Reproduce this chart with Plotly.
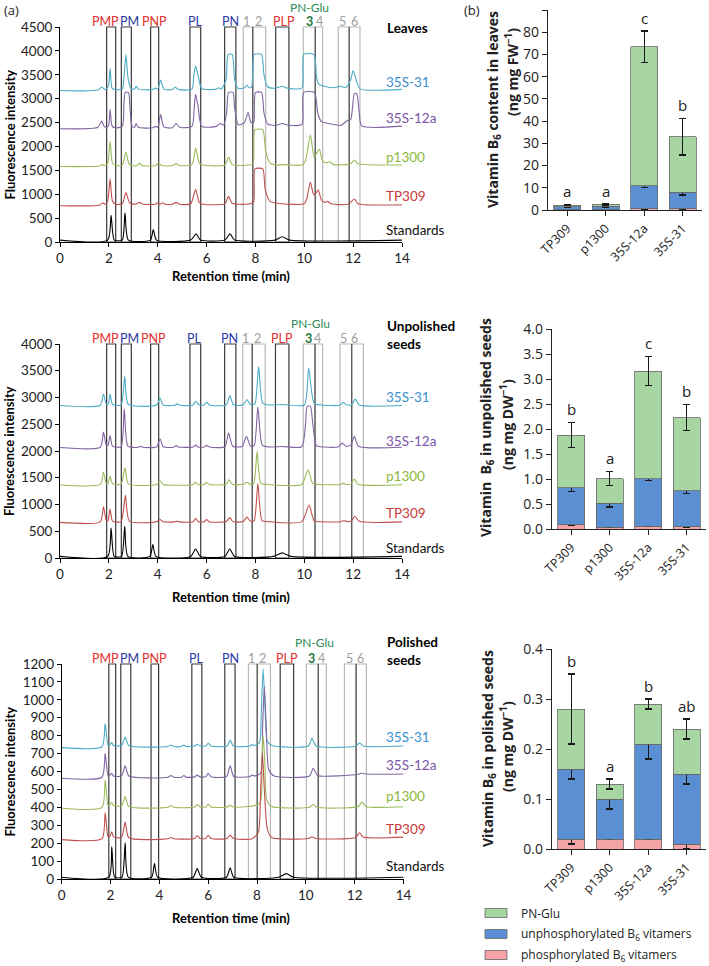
import plotly.graph_objects as go

# ======================= DATA =======================
# --- chromatograms: (retention time [min], fluorescence intensity)
LEAVES_35S31 = [(0,3170),(1.55,3180),(1.7,3245),(1.85,3190),(1.98,3260),(2.05,3630),(2.13,3220),(2.25,3190),(2.55,3200),(2.62,3450),(2.7,3930),(2.78,3450),(2.9,3210),(3.05,3200),(3.12,3260),(3.2,3200),(3.8,3190),(3.9,3220),(4.0,3200),(4.12,3390),(4.25,3200),(4.6,3190),(4.72,3240),(4.85,3190),(5.4,3200),(5.48,3500),(5.55,3690),(5.65,3500),(5.8,3210),(6.4,3200),(6.5,3230),(6.6,3200),(6.8,3400),(6.88,3925),(7.05,3925),(7.15,3400),(7.3,3210),(7.55,3230),(7.65,3280),(7.75,3230),(7.85,3250),(7.95,3925),(8.25,3925),(8.35,3500),(8.5,3250),(8.8,3220),(9.1,3260),(9.3,3220),(9.9,3220),(9.98,3925),(10.4,3925),(10.5,3450),(10.6,3300),(10.8,3260),(11.2,3230),(11.5,3260),(11.7,3230),(11.9,3400),(12.0,3590),(12.15,3350),(12.3,3200),(14,3195)]
LEAVES_35S12A = [(0,2370),(1.55,2400),(1.7,2530),(1.82,2410),(1.98,2420),(2.05,2770),(2.13,2430),(2.25,2390),(2.55,2420),(2.62,2900),(2.67,3130),(2.8,3130),(2.88,2700),(2.95,2420),(3.05,2400),(3.12,2480),(3.2,2400),(3.8,2390),(3.9,2420),(4.0,2400),(4.12,2665),(4.25,2410),(4.6,2390),(4.75,2480),(4.9,2400),(5.4,2420),(5.5,2850),(5.55,3090),(5.65,2850),(5.8,2420),(6.4,2420),(6.55,2480),(6.7,2450),(6.82,2700),(6.9,3130),(7.08,3130),(7.15,2800),(7.3,2450),(7.55,2500),(7.7,2710),(7.82,2500),(7.93,2500),(8.0,3130),(8.25,3130),(8.35,2700),(8.5,2470),(8.8,2440),(9.1,2480),(9.3,2450),(9.9,2460),(9.97,3130),(10.42,3130),(10.55,2700),(10.7,2520),(11.0,2480),(11.5,2440),(11.75,2540),(11.9,2560),(12.05,3110),(12.15,3100),(12.25,2700),(12.35,2430),(14,2425)]
LEAVES_P1300 = [(0,1580),(1.6,1590),(1.72,1620),(1.82,1600),(1.95,1640),(2.05,2105),(2.15,1650),(2.3,1600),(2.55,1610),(2.7,1885),(2.82,1640),(2.95,1600),(3.15,1600),(3.25,1650),(3.35,1600),(3.9,1600),(4.05,1660),(4.15,1600),(4.6,1600),(4.75,1640),(4.9,1600),(5.4,1620),(5.55,1965),(5.7,1650),(5.85,1610),(6.75,1610),(6.9,1780),(7.05,1620),(7.5,1600),(7.7,1610),(7.9,1630),(7.98,2350),(8.3,2350),(8.42,1900),(8.6,1650),(8.9,1610),(9.1,1620),(9.9,1610),(10.05,1700),(10.25,2245),(10.4,1780),(10.5,1850),(10.62,1940),(10.75,1700),(10.9,1660),(11.05,1680),(11.2,1620),(11.9,1640),(12.05,1715),(12.2,1640),(14,1612)]
LEAVES_TP309 = [(0,760),(1.6,770),(1.75,820),(1.85,790),(1.95,850),(2.05,1325),(2.15,850),(2.3,790),(2.55,800),(2.7,1033),(2.85,820),(3.1,790),(3.25,830),(3.4,790),(3.9,790),(4.0,820),(4.1,790),(4.2,820),(4.3,790),(4.6,790),(4.75,830),(4.9,790),(5.35,800),(5.55,1100),(5.7,830),(5.85,790),(6.75,800),(6.9,955),(7.05,810),(7.6,790),(7.92,830),(7.98,1530),(8.3,1530),(8.4,1100),(8.6,850),(9.1,800),(10.0,800),(10.1,900),(10.25,1250),(10.38,1000),(10.45,1000),(10.57,1095),(10.7,880),(10.85,830),(10.95,850),(11.1,800),(11.8,790),(12.05,900),(12.2,800),(14,780)]
LEAVES_STD = [(0,40),(1.95,40),(2.09,560),(2.22,40),(2.55,40),(2.66,610),(2.8,40),(3.7,40),(3.82,260),(3.95,40),(5.35,40),(5.57,170),(5.75,40),(6.75,40),(6.96,170),(7.15,40),(8.8,40),(9.1,110),(9.4,40),(14,40)]

UNPOL_35S31 = [(0,2850),(1.65,2855),(1.78,3065),(1.9,2870),(1.98,2880),(2.05,3065),(2.15,2870),(2.5,2860),(2.65,3395),(2.8,2870),(3.95,2860),(4.1,2990),(4.22,2860),(4.7,2855),(4.8,2880),(4.9,2855),(5.45,2860),(5.55,2930),(5.7,2860),(5.9,2860),(6.0,2915),(6.12,2860),(6.8,2860),(6.95,3035),(7.1,2865),(7.5,2860),(7.65,2960),(7.8,2870),(7.98,2880),(8.13,3580),(8.3,2890),(8.6,2860),(9.1,2870),(10.0,2860),(10.18,3550),(10.4,2890),(10.7,2860),(11.45,2855),(11.6,2905),(11.75,2860),(11.95,2865),(12.08,2970),(12.25,2860),(14,2850)]
UNPOL_35S12A = [(0,2065),(1.65,2070),(1.78,2355),(1.9,2100),(1.97,2110),(2.05,2290),(2.15,2090),(2.5,2080),(2.63,2790),(2.78,2090),(3.2,2070),(3.3,2090),(3.4,2070),(3.95,2075),(4.1,2230),(4.22,2080),(4.65,2070),(4.75,2100),(4.85,2075),(5.45,2075),(5.55,2110),(5.65,2075),(5.9,2075),(6.0,2105),(6.12,2075),(6.75,2080),(6.9,2335),(7.07,2090),(7.45,2085),(7.63,2275),(7.8,2090),(7.95,2100),(8.1,2820),(8.28,2110),(8.6,2075),(9.1,2085),(9.9,2080),(10.05,2500),(10.12,2840),(10.25,2840),(10.35,2500),(10.5,2100),(10.8,2075),(11.4,2080),(11.55,2150),(11.72,2085),(11.9,2110),(12.05,2275),(12.22,2090),(14,2070)]
UNPOL_P1300 = [(0,1365),(1.65,1375),(1.78,1600),(1.9,1390),(1.97,1400),(2.05,1525),(2.15,1390),(2.5,1380),(2.66,1685),(2.8,1385),(3.95,1375),(4.1,1445),(4.22,1375),(5.45,1375),(5.55,1415),(5.65,1375),(5.9,1375),(6.0,1410),(6.12,1375),(6.8,1378),(6.92,1460),(7.05,1380),(7.5,1378),(7.65,1415),(7.78,1380),(7.93,1390),(8.07,1995),(8.22,1400),(8.5,1375),(9.9,1375),(10.15,1650),(10.35,1390),(10.6,1375),(11.5,1375),(11.6,1400),(11.7,1375),(11.92,1385),(12.05,1478),(12.2,1380),(14,1370)]
UNPOL_TP309 = [(0,665),(1.65,675),(1.78,955),(1.9,695),(1.97,705),(2.05,915),(2.15,690),(2.5,680),(2.68,1170),(2.84,690),(3.95,678),(4.1,720),(4.22,678),(4.7,675),(4.78,690),(4.88,675),(5.45,678),(5.55,742),(5.65,678),(5.9,678),(6.0,720),(6.1,678),(6.8,680),(6.95,755),(7.08,680),(7.5,680),(7.65,765),(7.8,685),(7.95,700),(8.1,1390),(8.27,700),(8.55,678),(9.9,680),(10.2,990),(10.4,695),(10.7,678),(11.5,678),(11.62,700),(11.75,680),(11.92,690),(12.07,780),(12.25,685),(14,675)]
UNPOL_STD = [(0,30),(1.95,30),(2.09,560),(2.22,30),(2.52,30),(2.65,592),(2.78,30),(3.68,30),(3.8,250),(3.93,30),(5.35,30),(5.55,168),(5.75,30),(6.75,30),(6.95,168),(7.15,30),(8.75,30),(9.1,95),(9.45,30),(14,30)]

POL_35S31 = [(0,733),(1.65,738),(1.78,866),(1.9,745),(1.98,750),(2.05,762),(2.12,745),(2.45,745),(2.6,792),(2.75,745),(4.35,740),(4.48,748),(4.6,740),(4.9,740),(5.0,747),(5.1,740),(5.45,742),(5.55,752),(5.67,742),(5.9,742),(6.0,758),(6.12,742),(6.78,742),(6.9,776),(7.03,742),(7.7,742),(7.8,750),(7.9,745),(8.1,760),(8.18,950),(8.25,1172),(8.33,950),(8.42,770),(8.6,745),(10.1,742),(10.25,786),(10.42,742),(12.05,742),(12.2,760),(12.35,742),(14,742)]
POL_35S12A = [(0,562),(1.65,568),(1.78,702),(1.9,575),(1.98,580),(2.05,590),(2.12,575),(2.45,575),(2.6,632),(2.75,575),(4.35,568),(4.48,578),(4.6,568),(4.9,568),(5.0,578),(5.1,568),(5.45,570),(5.55,580),(5.67,570),(5.9,570),(6.0,590),(6.12,570),(6.75,572),(6.9,632),(7.05,572),(7.7,572),(7.8,580),(7.9,575),(8.15,590),(8.23,850),(8.3,1075),(8.38,850),(8.48,610),(8.7,575),(10.15,575),(10.3,618),(10.48,578),(12.15,585),(12.3,592),(12.45,586),(14,586)]
POL_P1300 = [(0,395),(1.65,400),(1.78,552),(1.9,410),(1.98,415),(2.05,428),(2.12,410),(2.45,408),(2.6,460),(2.75,405),(4.35,400),(4.48,410),(4.6,400),(5.45,402),(5.55,416),(5.67,402),(5.9,402),(6.0,418),(6.12,402),(6.78,402),(6.9,412),(7.03,402),(8.1,420),(8.2,650),(8.25,800),(8.32,650),(8.4,440),(8.6,405),(10.15,400),(10.3,416),(10.45,400),(12.15,405),(12.3,431),(12.45,405),(14,403)]
POL_TP309 = [(0,220),(1.65,225),(1.78,370),(1.9,235),(1.98,240),(2.05,263),(2.12,235),(2.45,232),(2.6,318),(2.75,230),(4.35,225),(4.48,232),(4.6,225),(5.45,226),(5.55,243),(5.67,226),(5.9,226),(6.0,244),(6.12,226),(6.78,226),(6.9,246),(7.03,226),(7.8,225),(8.05,260),(8.15,500),(8.22,705),(8.3,500),(8.42,280),(8.6,232),(10.1,226),(10.25,236),(10.4,226),(12.05,232),(12.2,258),(12.35,234),(14,234)]
POL_STD = [(0,10),(1.93,10),(2.05,180),(2.17,10),(2.47,10),(2.6,202),(2.73,10),(3.68,10),(3.8,86),(3.93,10),(5.38,10),(5.55,58),(5.72,10),(6.75,10),(6.9,63),(7.05,10),(8.9,10),(9.2,30),(9.5,10),(14,10)]

SAMPLE_NAMES = ["35S-31", "35S-12a", "p1300", "TP309", "Standards"]
PANEL_NAMES = ["Leaves", "Unpolished<br>seeds", "Polished<br>seeds"]
Y_MAX = [4500, 4000, 1200]
Y_STEP = [500, 500, 100]

PEAK_NAMES = ["PMP", "PM", "PNP", "PL", "PN", "1", "2", "PLP", "3", "4", "5", "6"]
LEAVES_PEAK_RT = [1.88, 2.86, 3.86, 5.55, 6.99, 7.64, 8.12, 9.16, 10.2, 10.61, 11.57, 12.05]
UNPOL_PEAK_RT = [1.85, 2.84, 3.84, 5.52, 6.95, 7.6, 8.07, 9.09, 10.18, 10.56, 11.6, 12.07]
POL_PEAK_RT = [1.79, 2.78, 3.81, 5.51, 6.9, 7.76, 8.23, 9.21, 10.24, 10.65, 11.79, 12.25]
PNGLU_RT = [10.23, 10.27, 10.34]

LEAVES_WINDOWS = [(1.91,2.28),(2.51,2.92),(3.71,4.04),(5.32,5.76),(6.74,7.20),(7.50,7.89),(7.89,8.42),(8.83,9.37),(9.96,10.45),(10.45,10.75),(11.39,11.84),(11.84,12.28)]
UNPOL_WINDOWS = [(1.91,2.28),(2.51,2.92),(3.71,4.04),(5.32,5.76),(6.74,7.20),(7.48,7.87),(7.87,8.40),(8.82,9.37),(9.96,10.44),(10.44,10.75),(11.46,11.94),(11.94,12.42)]
POL_WINDOWS = [(1.93,2.21),(2.42,2.83),(3.66,3.97),(5.33,5.74),(6.68,7.10),(7.65,8.01),(8.01,8.55),(8.95,9.50),(10.02,10.51),(10.51,10.84),(11.58,12.06),(12.06,12.48)]

# --- bar charts (stacked segment amounts and SD on each cumulative top)
LINES = ["TP309", "p1300", "35S-12a", "35S-31"]
LEAF_PHOS = [0.1, 0.1, 0.5, 0.5]
LEAF_UNPHOS = [1.3, 1.5, 10.5, 7.6]
LEAF_GLU = [0.8, 0.9, 62.5, 24.9]
LEAF_PHOS_SD = [0.05, 0.05, 0.2, 0.2]
LEAF_UNPHOS_SD = [0.3, 0.3, 0.9, 1.4]
LEAF_GLU_SD = [0.3, 0.3, 7.1, 8.3]
LEAF_LETTERS = ["a", "a", "c", "b"]

UNPOL_PHOS = [0.09, 0.04, 0.06, 0.05]
UNPOL_UNPHOS = [0.74, 0.48, 0.95, 0.72]
UNPOL_GLU = [1.05, 0.49, 2.15, 1.46]
UNPOL_PHOS_SD = [0.01, 0.01, 0.01, 0.01]
UNPOL_UNPHOS_SD = [0.08, 0.08, 0.04, 0.06]
UNPOL_GLU_SD = [0.25, 0.14, 0.29, 0.26]
UNPOL_LETTERS = ["b", "a", "c", "b"]

POL_PHOS = [0.02, 0.02, 0.02, 0.01]
POL_UNPHOS = [0.14, 0.08, 0.19, 0.14]
POL_GLU = [0.12, 0.03, 0.08, 0.09]
POL_PHOS_SD = [0.01, 0.0, 0.0, 0.01]
POL_UNPHOS_SD = [0.02, 0.02, 0.03, 0.02]
POL_GLU_SD = [0.07, 0.01, 0.01, 0.02]
POL_LETTERS = ["b", "a", "b", "ab"]

Y_TITLES_B = ["Vitamin B<sub>6</sub> content in leaves", "Vitamin  B<sub>6</sub> in unpolished seeds", "Vitamin B<sub>6</sub> in polished seeds"]
Y_UNITS_B = ["(ng mg FW<sup>−1</sup>)", "(ng mg DW<sup>−1</sup>)", "(ng mg DW<sup>−1</sup>)"]
LEGEND_NAMES = ["PN-Glu", "unphosphorylated B<sub>6</sub> vitamers", "phosphorylated B<sub>6</sub> vitamers"]

# ======================= STYLE / LAYOUT =======================
W, H = 709, 966
FONT = "Open Sans"
CFONT = "Lato"
def px(x): return x / W
def py(y): return 1 - y / H

TRACE_COLORS = ["#4bacc6", "#8064a2", "#9bbb59", "#c0504d", "#000000"]
LABEL_COLORS = ["#3a8fd0", "#7a55a8", "#8ab83c", "#c83838", "#111111"]
PEAK_COLORS = ["#e03030", "#2a3a9a", "#e03030", "#2a3aa8", "#2a3aa8", "#a0a0a0", "#a0a0a0", "#e03030", "#1e7a3e", "#a0a0a0", "#a0a0a0", "#a0a0a0"]
BLACK_WIN = [True, True, True, True, True, False, False, True, False, False, False, False]
BAR_GREEN, BAR_BLUE, BAR_PINK = "#a8d6a2", "#5b8fd3", "#f4a3a6"

fig = go.Figure()

chrom_data = [
    [LEAVES_35S31, LEAVES_35S12A, LEAVES_P1300, LEAVES_TP309, LEAVES_STD],
    [UNPOL_35S31, UNPOL_35S12A, UNPOL_P1300, UNPOL_TP309, UNPOL_STD],
    [POL_35S31, POL_35S12A, POL_P1300, POL_TP309, POL_STD],
]
peak_rts = [LEAVES_PEAK_RT, UNPOL_PEAK_RT, POL_PEAK_RT]
windows = [LEAVES_WINDOWS, UNPOL_WINDOWS, POL_WINDOWS]

# pixel geometry of chromatogram panels: (x0, x1, ytop, ybottom)
CHROM_BOX = [(60, 402, 27, 242), (60, 402, 344, 558), (61.7, 403.5, 664, 879)]
HEADER_Y = [21.5, 338, 658]
PNGLU_Y = [7.5, 323, 642]
LABEL_Y = [[82, 118, 157, 196, 230], [397, 441, 476, 513, 548], [737, 765, 796, 829, 866]]
PANEL_Y = [28, 335, 651]
XTITLE_Y = [276, 597, 918]

annotations = []
shapes = []

for p in range(3):
    xa = "x" if p == 0 else f"x{p+1}"
    ya = "y" if p == 0 else f"y{p+1}"
    for i, series in enumerate(chrom_data[p]):
        fig.add_trace(go.Scatter(
            x=[a for a, b in series], y=[b for a, b in series],
            mode="lines", line=dict(color=TRACE_COLORS[i], width=1.1, shape="spline", smoothing=0.6),
            xaxis=xa, yaxis=ya, showlegend=False, hoverinfo="skip"))
    x0, x1, yt, yb = CHROM_BOX[p]
    axk = "xaxis" if p == 0 else f"xaxis{p+1}"
    ayk = "yaxis" if p == 0 else f"yaxis{p+1}"
    fig.layout[axk] = dict(domain=[px(x0), px(x1)], range=[0, 14], dtick=2, tick0=0, anchor=ya,
                           showline=True, linecolor="black", linewidth=1, ticks="outside", ticklen=4,
                           tickcolor="black", showgrid=False, zeroline=False, automargin=False,
                           tickfont=dict(size=13.5, color="#222", family=CFONT))
    fig.layout[ayk] = dict(domain=[py(yb), py(yt)], range=[0, Y_MAX[p]], dtick=Y_STEP[p], anchor=xa,
                           showline=True, linecolor="black", linewidth=1, ticks="outside", ticklen=4,
                           tickcolor="black", showgrid=False, zeroline=False, automargin=False,
                           tickfont=dict(size=13.5, color="#222", family=CFONT))
    # windows
    for k, (a, b) in enumerate(windows[p]):
        col = "#3a3a3a" if BLACK_WIN[k] else "#b8b8b8"
        shapes.append(dict(type="rect", xref=xa, yref=f"{ya} domain", x0=a, x1=b, y0=0, y1=1,
                           line=dict(color=col, width=1.2), layer="below"))
    for k in (6, 9, 11):
        a = windows[p][k][0]
        shapes.append(dict(type="line", xref=xa, yref=f"{ya} domain", x0=a, x1=a, y0=0, y1=1,
                           line=dict(color="#555555", width=1.2), layer="below"))
    # peak names
    for k, name in enumerate(PEAK_NAMES):
        txt = f"<b>{name}</b>" if name == "3" else name
        annotations.append(dict(x=peak_rts[p][k], y=py(HEADER_Y[p]), xref=xa, yref="paper", text=txt,
                                showarrow=False, font=dict(size=12.5, color=PEAK_COLORS[k], family=CFONT),
                                xanchor="center", yanchor="middle", borderpad=0))
    annotations.append(dict(x=PNGLU_RT[p], y=py(PNGLU_Y[p]), xref=xa, yref="paper", text="PN-Glu",
                            showarrow=False, font=dict(size=12, color="#2e8b57", family=CFONT),
                            xanchor="center", yanchor="middle", borderpad=0))
    # sample labels
    for i, nm in enumerate(SAMPLE_NAMES):
        annotations.append(dict(x=px(384), y=py(LABEL_Y[p][i]), xref="paper", yref="paper", text=nm,
                                showarrow=False, font=dict(size=13.5, color=LABEL_COLORS[i], family=CFONT),
                                xanchor="left", yanchor="middle"))
    annotations.append(dict(x=px(385), y=py(PANEL_Y[p]), xref="paper", yref="paper",
                            text=f"<b>{PANEL_NAMES[p]}</b>", align="left",
                            showarrow=False, font=dict(size=13.5, color="black", family=CFONT),
                            xanchor="left", yanchor="middle"))
    annotations.append(dict(x=px(9), y=py((yt + yb) / 2), xref="paper", yref="paper",
                            text="<b>Fluorescence intensity</b>", textangle=-90, showarrow=False,
                            font=dict(size=13, color="black", family=CFONT), xanchor="center", yanchor="middle"))
    annotations.append(dict(x=px(231), y=py(XTITLE_Y[p]), xref="paper", yref="paper",
                            text="<b>Retention time (min)</b>", showarrow=False,
                            font=dict(size=13, color="black", family=CFONT), xanchor="center", yanchor="middle"))

# ---------------- bar charts ----------------
bar_sets = [
    (LEAF_PHOS, LEAF_UNPHOS, LEAF_GLU, LEAF_PHOS_SD, LEAF_UNPHOS_SD, LEAF_GLU_SD, LEAF_LETTERS),
    (UNPOL_PHOS, UNPOL_UNPHOS, UNPOL_GLU, UNPOL_PHOS_SD, UNPOL_UNPHOS_SD, UNPOL_GLU_SD, UNPOL_LETTERS),
    (POL_PHOS, POL_UNPHOS, POL_GLU, POL_PHOS_SD, POL_UNPHOS_SD, POL_GLU_SD, POL_LETTERS),
]
BAR_BOX = [(548, 702, 10, 210), (552, 706, 329, 529), (552, 706, 649, 849)]
BAR_YMAX = [90, 4, 0.4]
BAR_STEP = [10, 0.5, 0.1]
BAR_FMT = ["d", ".1f", ".1f"]
TITLE1_POS = [(493, 110), (486, 428), (488, 749)]
TITLE2_POS = [(512, 72), (507, 425), (507, 747)]

for p in range(3):
    phos, unph, glu, phos_sd, unph_sd, glu_sd, letters = bar_sets[p]
    xa, ya = f"x{p+4}", f"y{p+4}"
    for vals, sd, col in ((phos, phos_sd, BAR_PINK), (unph, unph_sd, BAR_BLUE), (glu, glu_sd, BAR_GREEN)):
        fig.add_trace(go.Bar(x=LINES, y=vals, xaxis=xa, yaxis=ya, marker=dict(color=col, line=dict(color="#666666", width=0.8)),
                             error_y=dict(type="data", array=sd, visible=True, color="#1a1a1a", thickness=1.3, width=3.5),
                             showlegend=False, hoverinfo="skip"))
    x0, x1, yt, yb = BAR_BOX[p]
    fig.layout[f"xaxis{p+4}"] = dict(domain=[px(x0), px(x1)], anchor=ya, type="category", automargin=False,
                                     showline=True, linecolor="#222", linewidth=1.2, ticks="outside", ticklen=5,
                                     tickcolor="#222", tickangle=-45, showgrid=False,
                                     tickfont=dict(size=12.5, color="#222", family=FONT))
    fig.layout[f"yaxis{p+4}"] = dict(domain=[py(yb), py(yt)], anchor=xa, range=[0, BAR_YMAX[p]], dtick=BAR_STEP[p],
                                     tickformat=BAR_FMT[p], showline=True, linecolor="#222", linewidth=1.2, automargin=False,
                                     ticks="outside", ticklen=5, tickcolor="#222", showgrid=False, zeroline=False,
                                     tickfont=dict(size=14, color="#222", family=FONT))
    for j, ln in enumerate(LINES):
        top = phos[j] + unph[j] + glu[j] + glu_sd[j]
        annotations.append(dict(x=ln, y=top, xref=xa, yref=ya, text=letters[j], showarrow=False,
                                yanchor="bottom", yshift=1, font=dict(size=15, color="#222", family=FONT)))
    annotations.append(dict(x=px(TITLE1_POS[p][0]), y=py(TITLE1_POS[p][1]), xref="paper", yref="paper",
                            text=f"<b>{Y_TITLES_B[p]}</b>", textangle=-90, showarrow=False,
                            font=dict(size=14, color="#222", family=FONT), xanchor="center", yanchor="middle"))
    annotations.append(dict(x=px(TITLE2_POS[p][0]), y=py(TITLE2_POS[p][1]), xref="paper", yref="paper",
                            text=f"<b>{Y_UNITS_B[p]}</b>", textangle=-90, showarrow=False,
                            font=dict(size=14, color="#222", family=FONT), xanchor="center", yanchor="middle"))

# legend (custom)
LEG_Y = [913, 934, 955]
for k, (nm, col) in enumerate(zip(LEGEND_NAMES, [BAR_GREEN, BAR_BLUE, BAR_PINK])):
    shapes.append(dict(type="rect", xref="paper", yref="paper", x0=px(485), x1=px(507),
                       y0=py(LEG_Y[k] + 4.5), y1=py(LEG_Y[k] - 4.5), fillcolor=col, line=dict(color="#666", width=0.8)))
    annotations.append(dict(x=px(519), y=py(LEG_Y[k]), xref="paper", yref="paper", text=nm, showarrow=False,
                            xanchor="left", yanchor="middle", font=dict(size=12, color="#222", family=FONT)))

annotations.append(dict(x=px(2), y=py(10), xref="paper", yref="paper", text="(a)", showarrow=False,
                        xanchor="left", yanchor="middle", font=dict(size=13, color="#222", family=FONT)))
annotations.append(dict(x=px(462), y=py(10), xref="paper", yref="paper", text="(b)", showarrow=False,
                        xanchor="left", yanchor="middle", font=dict(size=13, color="#222", family=FONT)))

fig.update_layout(width=W, height=H, margin=dict(l=0, r=0, t=0, b=0, autoexpand=False), paper_bgcolor="white",
                  plot_bgcolor="white", barmode="stack", bargap=0.31, showlegend=False,
                  annotations=annotations, shapes=shapes, font=dict(family=FONT))
fig.write_html("out.html", config={"displayModeBar": False, "staticPlot": True},
               post_script="document.body.style.margin='0';document.body.style.padding='0';document.body.style.overflow='hidden';")
